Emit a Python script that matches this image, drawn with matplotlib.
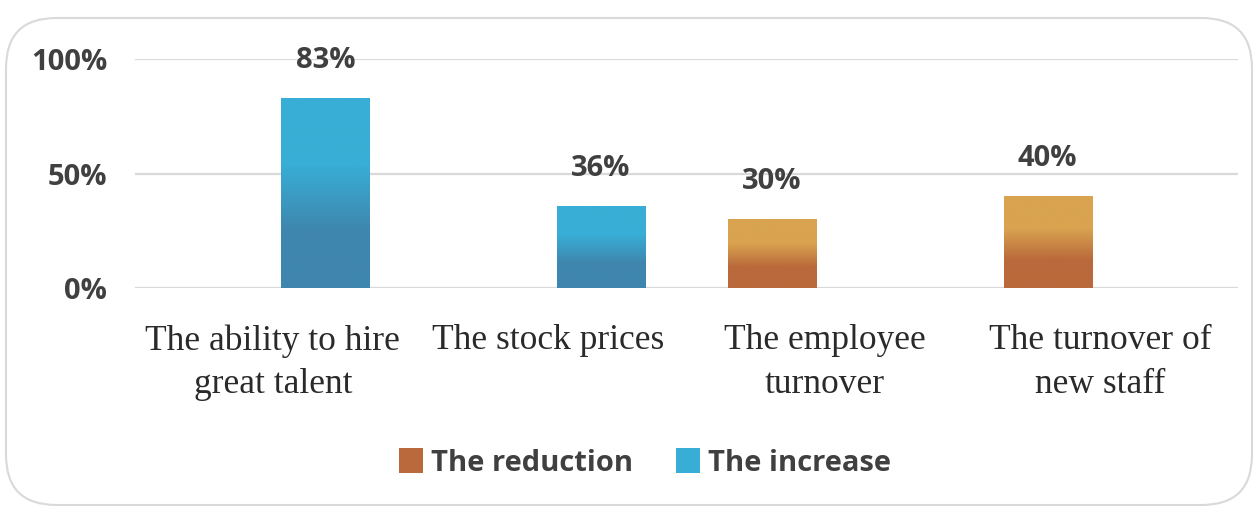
import matplotlib
matplotlib.use("Agg")
import matplotlib.pyplot as plt
import numpy as np
from matplotlib.patches import Patch, FancyBboxPatch
from matplotlib.colors import LinearSegmentedColormap

categories = ["The ability to hire\ngreat talent", "The stock prices",
              "The employee\nturnover", "The turnover of\nnew staff"]
reduction = [None, None, 0.30, 0.40]
increase = [0.83, 0.36, None, None]
yticks = [0, 0.5, 1.0]
ytick_labels = ["0%", "50%", "100%"]

blue_top, blue_bot = "#38AED6", "#3F86AE"
orange_top, orange_bot = "#D9A350", "#B9693B"
txt = "#404040"

fig = plt.figure(figsize=(12.58, 5.11), dpi=100)
# rounded frame
frame = FancyBboxPatch((6/1258, 6/511), 1246/1258, (505-18)/511,
                       boxstyle="round,pad=0,rounding_size=0.04",
                       transform=fig.transFigure, facecolor="white",
                       edgecolor="#D9D9D9", linewidth=1.5, mutation_aspect=2.46,
                       zorder=-10)
fig.patches.append(frame)

ax = fig.add_axes([135/1258, 1 - 288/511, 1103/1258, 229/511])
ax.set_zorder(1)
ax.patch.set_alpha(0)
ax.set_xlim(-0.5, 3.5)
ax.set_ylim(0, 1.0)
for s in ax.spines.values():
    s.set_visible(False)
ax.set_yticks(yticks)
ax.set_yticklabels(ytick_labels, fontfamily="Open Sans", fontweight="bold",
                   fontsize=21, color=txt)
ax.yaxis.grid(True, color="#D9D9D9", linewidth=1.6)
ax.set_axisbelow(True)
ax.tick_params(axis="y", length=0, pad=20)
ax.set_xticks(range(len(categories)))
ax.set_xticklabels(categories, fontfamily="Liberation Serif", fontsize=25.5,
                   color="#2a2a2a", linespacing=1.42)
ax.tick_params(axis="x", length=0, pad=26)

width = 0.32
off = 0.19
x = np.arange(len(categories))

def grad_bar(xc, h, top, bot):
    bars = ax.bar([xc], [h], width=width, color=top, edgecolor="none", zorder=2)
    b = bars[0]
    cmap = LinearSegmentedColormap.from_list("g", [(0, bot), (0.3, bot), (0.65, top), (1, top)])
    grad = np.linspace(0, 1, 256).reshape(-1, 1)
    im = ax.imshow(grad, extent=[b.get_x(), b.get_x() + b.get_width(), 0, b.get_height()],
                   origin="lower", aspect="auto", cmap=cmap, zorder=3)
    im.set_clip_path(b)
    ax.annotate(f"{round(h*100)}%", (xc, h), xytext=(0, 27), textcoords="offset points",
                ha="center", va="center", fontfamily="Open Sans", fontweight="bold",
                fontsize=21, color=txt, annotation_clip=False)

for i in x:
    if reduction[i] is not None:
        grad_bar(i - off, reduction[i], orange_top, orange_bot)
    if increase[i] is not None:
        grad_bar(i + off, increase[i], blue_top, blue_bot)
ax.set_xlim(-0.5, 3.5)
ax.set_ylim(0, 1.0)

handles = [Patch(facecolor=orange_bot, edgecolor="none", label="The reduction"),
           Patch(facecolor=blue_top, edgecolor="none", label="The increase")]
fig.legend(handles=handles, loc="center", bbox_to_anchor=(645/1258, 1 - 463/511),
           ncol=2, frameon=False, handlelength=0.82, handleheight=0.95,
           handletextpad=0.28, columnspacing=1.45,
           prop={"family": "Open Sans", "weight": "bold", "size": 21},
           labelcolor=txt)

fig.savefig("out.png", dpi=100)
